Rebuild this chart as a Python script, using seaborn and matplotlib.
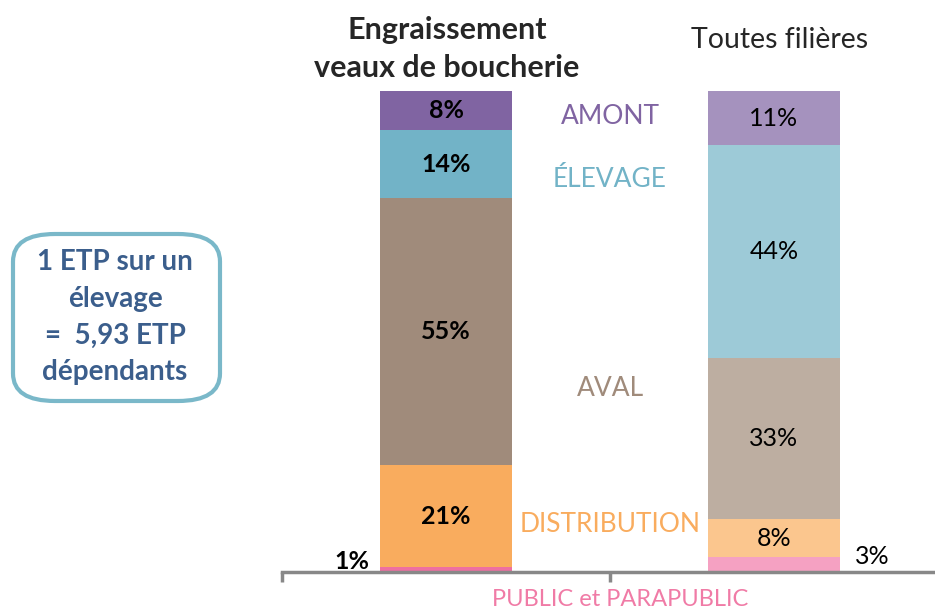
import matplotlib
matplotlib.use("Agg")
import matplotlib.pyplot as plt
from matplotlib.patches import FancyBboxPatch
import seaborn as sns

sns.set_style("white")
plt.rcParams["font.family"] = ["Lato", "DejaVu Sans"]

# Data: share of jobs by sector, per column
columns = ["Engraissement\nveaux de boucherie", "Toutes filières"]
sectors = ["PUBLIC et PARAPUBLIC", "DISTRIBUTION", "AVAL", "ÉLEVAGE", "AMONT"]
veaux = [1, 21, 55, 14, 8]
toutes = [3, 8, 33, 44, 11]

dark_colors = ["#EE6FA0", "#F9AC5E", "#A08B7B", "#72B3C7", "#8064A2"]
light_colors = ["#F5A1C2", "#FBC68E", "#BDAEA1", "#9DCAD7", "#A592BE"]
sector_label_colors = ["#F07BA6", "#F9AC5E", "#A08B7B", "#72B3C7", "#8064A2"]

fig = plt.figure(figsize=(9.35, 6.12), dpi=100)
ax = fig.add_axes([282 / 935, 40 / 612, 656 / 935, 482 / 612])

cat_keys = ["veaux", "toutes"]
for key, values, colors in [(cat_keys[0], veaux, dark_colors),
                            (cat_keys[1], toutes, light_colors)]:
    base = 0
    for v, c in zip(values, colors):
        sns.barplot(x=[key], y=[v], order=cat_keys, bottom=base, color=c,
                    width=0.405, saturation=1, linewidth=0, ax=ax)
        base += v

ax.set_xlim(-0.5, 1.5)
ax.set_ylim(0, 99.3)
ax.set_xlabel("")
ax.set_ylabel("")
ax.set_yticks([])
ax.set_xticks([-0.5, 0.5, 1.5])
ax.set_xticklabels([])
ax.tick_params(axis="x", bottom=True, direction="out", length=7, width=2.5,
               color="#888888")
for s in ["top", "right", "left"]:
    ax.spines[s].set_visible(False)
ax.spines["bottom"].set_color("#888888")
ax.spines["bottom"].set_linewidth(2.5)

# Value labels inside the bars
cum = 0
for v in veaux:
    if v >= 5:
        ax.text(0, cum + v / 2, f"{v}%", ha="center", va="center",
                fontsize=18, fontweight="bold", color="black")
    cum += v
cum = 0
for v in toutes:
    if v >= 5:
        ax.text(1, cum + v / 2, f"{v}%", ha="center", va="center",
                fontsize=18, color="black")
    cum += v

# Small shares written beside the bars
ax.text(-0.232, 2.1, f"{veaux[0]}%", ha="right", va="center",
        fontsize=18, fontweight="bold", color="black")
ax.text(1.247, 3.1, f"{toutes[0]}%", ha="left", va="center",
        fontsize=18, color="black")

# Sector names between the bars
sector_y = [None, 9.7, 37.9, 80.9, 93.8]
for i, sec in enumerate(sectors):
    if sector_y[i] is None:
        continue
    ax.text(0.5, sector_y[i], sec, ha="center", va="center", fontsize=19,
            color=sector_label_colors[i])
fig.text(620 / 935, 1 - 600 / 612, sectors[0], ha="center", va="center",
         fontsize=17, color=sector_label_colors[0])

# Column titles
fig.text(447 / 935, 1 - 49 / 612, columns[0], ha="center", va="center",
         fontsize=22, fontweight="bold", linespacing=1.4)
fig.text(780 / 935, 1 - 40 / 612, columns[1], ha="center", va="center",
         fontsize=20.5)

# Callout box
box = FancyBboxPatch((13 / 935, 1 - 401 / 612), 207 / 935, 167 / 612,
                     boxstyle="round,pad=0,rounding_size=0.045",
                     transform=fig.transFigure, facecolor="white",
                     edgecolor="#7AB8C9", linewidth=3)
fig.patches.append(box)
fig.text(115 / 935, 1 - 317 / 612,
         "1 ETP sur un\nélevage\n=  5,93 ETP\ndépendants",
         ha="center", va="center", fontsize=20, fontweight="bold",
         color="#3B5E8C", linespacing=1.52)

fig.savefig("out.png", dpi=100)
